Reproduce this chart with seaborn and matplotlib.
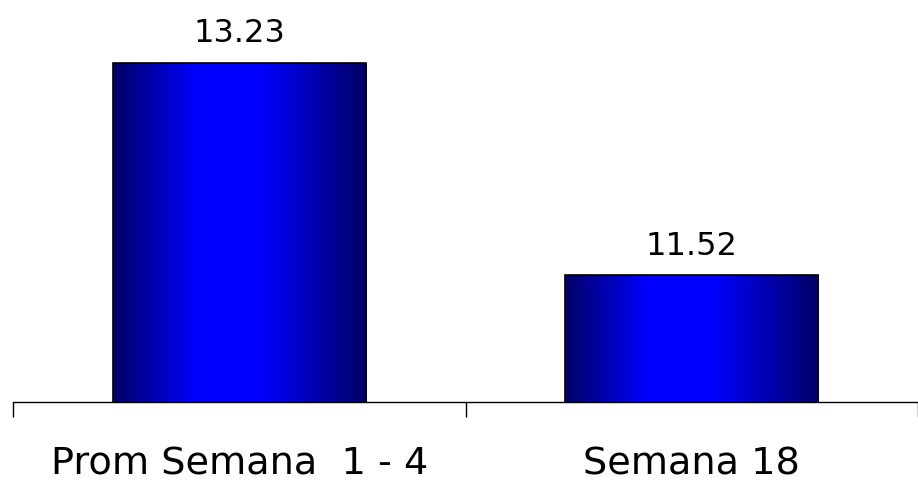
import numpy as np
import pandas as pd
import seaborn as sns
import matplotlib.pyplot as plt
from matplotlib.colors import LinearSegmentedColormap

categories = ["Prom Semana  1 - 4", "Semana 18"]
values = [13.23, 11.52]
value_labels = ["13.23", "11.52"]

sns.set_style("white")
plt.rcParams['font.family'] = ['DejaVu Sans']
plt.rcParams['text.color'] = 'black'
plt.rcParams['xtick.color'] = 'black'

df = pd.DataFrame({"cat": categories, "val": values})

fig = plt.figure(figsize=(9.18, 4.87), dpi=100)
ax = fig.add_axes([13 / 918, 1 - 402 / 487, 905 / 918, 402 / 487])

sns.barplot(data=df, x="cat", y="val", ax=ax, width=0.56,
            color="#0000ff", edgecolor="black", linewidth=1.2)

ax.set_ylim(10.5, 13.74)
ax.set_xlim(-0.5, 1.5)

# horizontal navy -> blue -> navy gradient inside each bar
cmap = LinearSegmentedColormap.from_list(
    "bar", [(0.0, (0, 0, 0.40)), (0.33, (0, 0, 1.0)),
            (0.58, (0, 0, 1.0)), (1.0, (0, 0, 0.40))])
grad = np.linspace(0, 1, 512).reshape(1, -1)
for patch in ax.patches:
    x0, y0 = patch.get_x(), patch.get_y()
    w, h = patch.get_width(), patch.get_height()
    im = ax.imshow(grad, cmap=cmap, aspect="auto", interpolation="bilinear",
                   extent=[x0, x0 + w, 10.5, y0 + h], zorder=patch.get_zorder() + 0.1)
    im.set_clip_path(patch)
    patch.set_facecolor("none")
    patch.set_zorder(patch.get_zorder() + 0.2)

for i, patch in enumerate(ax.patches):
    ax.annotate(value_labels[i],
                (patch.get_x() + patch.get_width() / 2, patch.get_height() + patch.get_y()),
                xytext=(0, 10), textcoords="offset points",
                ha="center", va="bottom", fontsize=23, color="black")

for s in ["top", "left", "right"]:
    ax.spines[s].set_visible(False)
ax.spines["bottom"].set_linewidth(1.0)
ax.spines["bottom"].set_color("black")

ax.set_yticks([])
ax.set_xticks([-0.5, 0.5, 1.5])
ax.set_xticklabels([])
ax.tick_params(axis="x", which="major", direction="out", length=11, width=1.0,
               color="black", bottom=True)
ax.set_xticks([0, 1], minor=True)
ax.set_xticklabels(categories, minor=True, fontsize=27.5, color="black")
ax.tick_params(axis="x", which="minor", length=0, pad=32)
ax.set_xlabel("")
ax.set_ylabel("")

fig.savefig("out.png", dpi=100)
